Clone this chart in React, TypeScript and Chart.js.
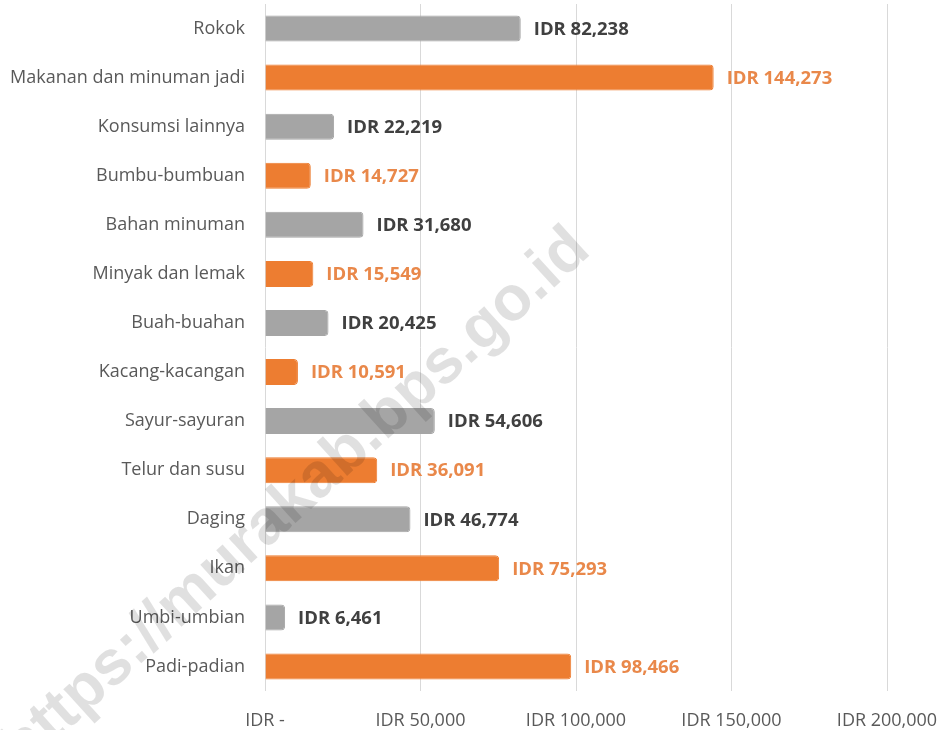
import React, { useEffect, useRef } from "react";
import { Chart, registerables } from "chart.js";

Chart.register(...registerables);

const categories = [
  "Rokok",
  "Makanan dan minuman jadi",
  "Konsumsi lainnya",
  "Bumbu-bumbuan",
  "Bahan minuman",
  "Minyak dan lemak",
  "Buah-buahan",
  "Kacang-kacangan",
  "Sayur-sayuran",
  "Telur dan susu",
  "Daging",
  "Ikan",
  "Umbi-umbian",
  "Padi-padian",
];

const values = [82238, 144273, 22219, 14727, 31680, 15549, 20425, 10591, 54606, 36091, 46774, 75293, 6461, 98466];

const tickValues = [0, 50000, 100000, 150000, 200000];

const watermarkText = "https://murakab.bps.go.id";

const GRAY = "#A5A5A5";
const ORANGE = "#ED7D31";
const barColors = categories.map((_, i) => (i % 2 === 0 ? GRAY : ORANGE));
const labelColors = categories.map((_, i) => (i % 2 === 0 ? "#404040" : "#E9884A"));

const FONT = "'Open Sans', Lato, sans-serif";

function fmt(v: number): string {
  if (v === 0) return "IDR -";
  return "IDR " + v.toLocaleString("en-US");
}

const watermarkPlugin = {
  id: "watermark",
  afterDatasetsDraw(chart: any) {
    const ctx = chart.ctx;
    ctx.save();
    ctx.font = `bold 100px 'Liberation Sans', Arial, sans-serif`;
    const w100 = ctx.measureText(watermarkText).width;
    const size = (770 / w100) * 100;
    ctx.font = `bold ${size}px 'Liberation Sans', Arial, sans-serif`;
    ctx.translate(296, 499);
    ctx.rotate((-42.3 * Math.PI) / 180);
    ctx.textAlign = "center";
    ctx.textBaseline = "middle";
    ctx.fillStyle = "rgba(0,0,0,0.12)";
    ctx.fillText(watermarkText, 0, 0);
    ctx.restore();
  },
};

const valueLabelPlugin = {
  id: "valueLabels",
  afterDatasetsDraw(chart: any) {
    const ctx = chart.ctx;
    const meta = chart.getDatasetMeta(0);
    ctx.save();
    ctx.font = `bold 18.5px ${FONT}`;
    ctx.textBaseline = "middle";
    ctx.textAlign = "left";
    meta.data.forEach((el: any, i: number) => {
      ctx.fillStyle = labelColors[i];
      ctx.fillText(fmt(values[i]), el.x + 13, el.y + 1);
    });
    ctx.restore();
  },
};

export default function App() {
  const ref = useRef<HTMLCanvasElement | null>(null);

  useEffect(() => {
    if (!ref.current) return;
    const chart = new Chart(ref.current, {
      type: "bar",
      data: {
        labels: categories,
        datasets: [
          {
            data: values,
            backgroundColor: barColors,
            borderColor: barColors,
            borderWidth: 1,
            borderRadius: 4,
            borderSkipped: "start",
            barPercentage: 0.53,
            categoryPercentage: 1,
          },
        ],
      },
      options: {
        indexAxis: "y",
        animation: false,
        responsive: true,
        maintainAspectRatio: false,
        layout: { autoPadding: false, padding: { left: 0, right: 59, top: 4, bottom: 0 } },
        plugins: {
          legend: { display: false },
          tooltip: { enabled: false },
        },
        scales: {
          x: {
            min: 0,
            max: 200000,
            afterBuildTicks(scale: any) {
              scale.ticks = tickValues.map((v) => ({ value: v }));
            },
            afterFit(scale: any) {
              scale.height = 39;
              scale.paddingLeft = 0;
              scale.paddingRight = 0;
            },
            border: { display: false },
            grid: { color: "#D9D9D9", drawTicks: false, lineWidth: 1 },
            ticks: {
              padding: 19,
              color: "#595959",
              font: { family: FONT, size: 18 },
              callback: (v: any) => fmt(Number(v)),
              maxRotation: 0,
            },
          },
          y: {
            afterFit(scale: any) {
              scale.width = 265;
              scale.paddingTop = 0;
              scale.paddingBottom = 0;
            },
            border: { display: false },
            grid: { display: false, drawTicks: false },
            ticks: {
              padding: 20,
              color: "#595959",
              font: { family: FONT, size: 18 },
            },
          },
        },
      },
      plugins: [watermarkPlugin, valueLabelPlugin],
    } as any);
    return () => chart.destroy();
  }, []);

  return (
    <div style={{ position: "absolute", left: 0, top: 0, width: 946, height: 730, background: "#fff" }}>
      <canvas ref={ref} />
    </div>
  );
}
